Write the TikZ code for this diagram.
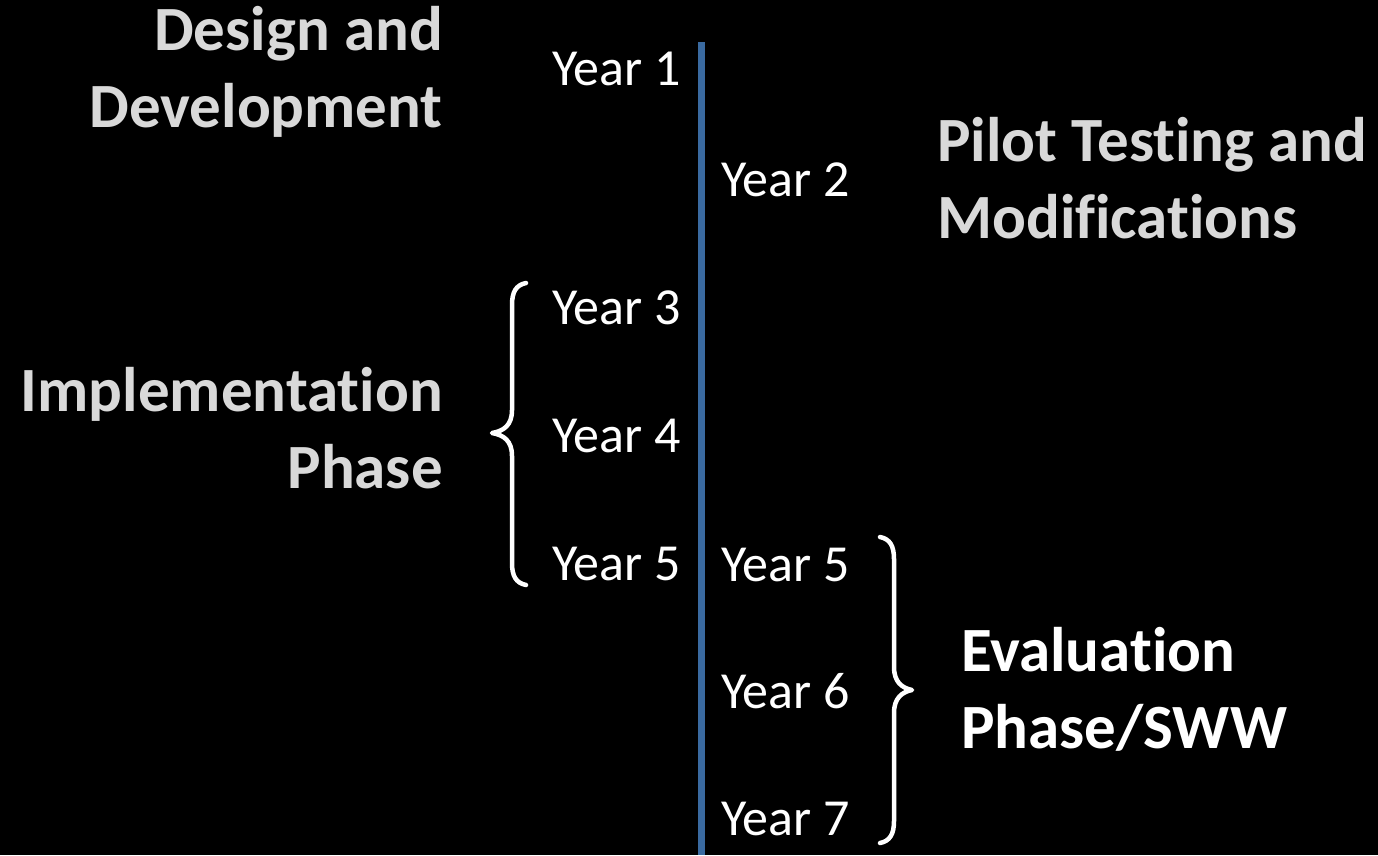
\documentclass[tikz,border=0pt]{standalone}
\usepackage{fontspec}
\setmainfont{Carlito}[Ligatures=NoCommon]
\definecolor{lineblue}{RGB}{58,106,160}
\definecolor{lightgray}{RGB}{217,217,217}
\begin{document}
\begin{tikzpicture}[x=1pt,y=-1pt,
  yearlbl/.style={inner sep=0pt,text=white,font=\fontsize{52}{62}\selectfont},
  phaselbl/.style={inner sep=0pt,font=\fontsize{63}{76.5}\selectfont\bfseries},
  bracepath/.style={draw=white,line width=4.5pt,line cap=round,line join=round}]
\fill[black] (0,0) rectangle (1378,855);
\useasboundingbox (0,0) rectangle (1378,855);
% timeline
\coordinate (ltop) at (701,42);
\coordinate (lbot) at (701,855);
\draw[lineblue,line width=7pt] (ltop) -- (lbot);
% years
\node[yearlbl,anchor=base east] (y1) at (681,85) {Year 1};
\node[yearlbl,anchor=base west] (y2) at (721,196) {Year 2};
\node[yearlbl,anchor=base east] (y3) at (681,324) {Year 3};
\node[yearlbl,anchor=base east] (y4) at (681,452) {Year 4};
\node[yearlbl,anchor=base east] (y5l) at (681,580) {Year 5};
\node[yearlbl,anchor=base west] (y5r) at (721,581) {Year 5};
\node[yearlbl,anchor=base west] (y6) at (721,708) {Year 6};
\node[yearlbl,anchor=base west] (y7) at (721,835) {Year 7};
% phases (base anchor = baseline of last line)
\node[phaselbl,text=lightgray,align=right,anchor=base east] (dd) at (443,127) {Design and\\Development};
\node[phaselbl,text=lightgray,align=left,anchor=base west] (pt) at (937,238) {Pilot Testing and\\Modifications};
\node[phaselbl,text=lightgray,align=right,anchor=base east] (ip) at (443,488) {Implementation\\Phase};
\node[phaselbl,text=white,align=left,anchor=base west] (ev) at (961,748) {Evaluation\\Phase/SWW};
% left brace
\coordinate (lb1) at (526,283);
\coordinate (lbt) at (492,433);
\coordinate (lb2) at (526,585);
\draw[bracepath] (lb1) .. controls (516,285) and (512,292) .. (512,305)
  -- (512,410) .. controls (512,425) and (504,431) .. (lbt)
  .. controls (504,435) and (512,441) .. (512,456)
  -- (512,563) .. controls (512,576) and (516,583) .. (lb2);
% right brace
\coordinate (rb1) at (880,537);
\coordinate (rbt) at (912,690);
\coordinate (rb2) at (880,843);
\draw[bracepath] (rb1) .. controls (890,539) and (894,546) .. (894,559)
  -- (894,667) .. controls (894,682) and (902,688) .. (rbt)
  .. controls (902,692) and (894,698) .. (894,713)
  -- (894,821) .. controls (894,834) and (890,841) .. (rb2);
\end{tikzpicture}
\end{document}
